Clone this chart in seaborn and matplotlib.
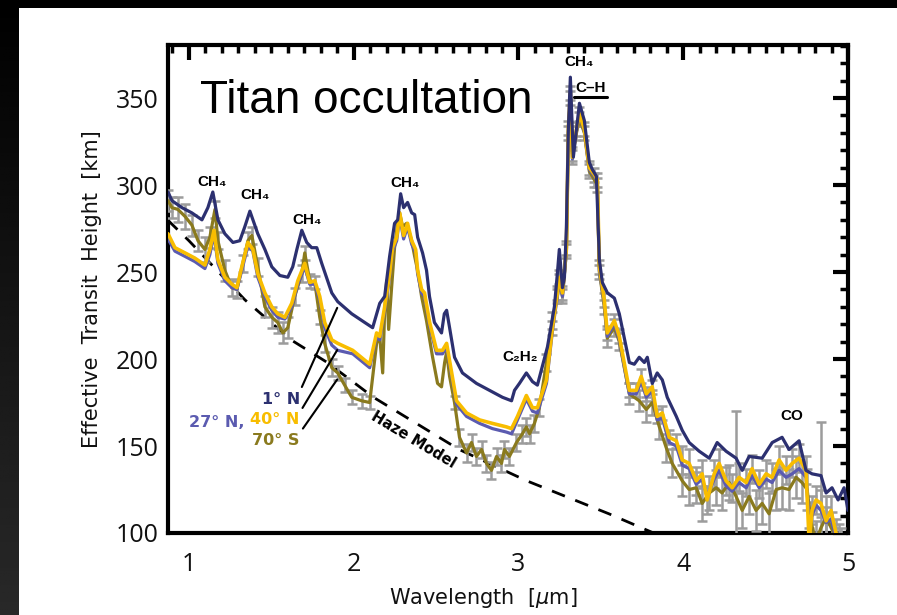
import numpy as np
import matplotlib
matplotlib.use("Agg")
import matplotlib.pyplot as plt
from matplotlib.patches import Rectangle
from matplotlib.ticker import MultipleLocator
import seaborn as sns

sns.set_theme(style="white")
plt.rcParams['font.family'] = ['DejaVu Sans']

# ---------------- data ----------------
wl_1N = [0.873, 0.897, 0.958, 1.018, 1.079, 1.115, 1.145, 1.176, 1.218, 1.267,
         1.309, 1.339, 1.370, 1.418, 1.461, 1.503, 1.552, 1.600, 1.630, 1.655,
         1.685, 1.715, 1.745, 1.776, 1.806, 1.867, 1.903, 1.988, 2.067, 2.115,
         2.158, 2.188, 2.218, 2.248, 2.267, 2.285, 2.303, 2.327, 2.352, 2.370,
         2.388, 2.418, 2.442, 2.460, 2.490, 2.533, 2.550, 2.564, 2.582, 2.612,
         2.660, 2.745, 2.824, 2.903, 2.958, 2.976, 3.006, 3.048, 3.085, 3.115,
         3.176, 3.218, 3.236, 3.248, 3.267, 3.279, 3.291, 3.303, 3.315, 3.333,
         3.370, 3.400, 3.430, 3.448, 3.473, 3.491, 3.509, 3.540, 3.582, 3.612,
         3.673, 3.703, 3.733, 3.764, 3.782, 3.812, 3.842, 3.873, 3.903, 3.958,
         3.994, 4.036, 4.097, 4.158, 4.206, 4.260, 4.321, 4.358, 4.400, 4.479,
         4.540, 4.600, 4.642, 4.703, 4.745, 4.782, 4.836, 4.867, 4.903, 4.940,
         4.976, 5.000]
h_1N = [296, 291, 287, 284, 280, 287, 296, 280, 272, 267,
        268, 276, 285, 272, 263, 253, 248, 247, 253, 263,
        274, 267, 264, 264, 255, 238, 233, 226, 221, 218,
        232, 236, 259, 278, 280, 295, 287, 290, 284, 283,
        270, 261, 251, 236, 221, 215, 226, 228, 218, 201,
        192, 186, 182, 178, 176, 182, 186, 192, 187, 185,
        207, 230, 249, 263, 241, 247, 276, 333, 362, 316,
        347, 337, 313, 309, 305, 257, 244, 238, 235, 226,
        198, 197, 201, 198, 201, 186, 192, 188, 178, 167,
        159, 152, 147, 143, 152, 147, 143, 136, 144, 143,
        152, 155, 148, 153, 136, 134, 133, 123, 126, 119,
        126, 113]

wl_40N = [0.873, 0.915, 0.976, 1.036, 1.097, 1.127, 1.152, 1.176, 1.218, 1.261,
          1.291, 1.321, 1.358, 1.388, 1.418, 1.461, 1.503, 1.539, 1.582, 1.624,
          1.661, 1.703, 1.733, 1.764, 1.794, 1.824, 1.867, 1.903, 1.994, 2.097,
          2.139, 2.158, 2.188, 2.218, 2.236, 2.261, 2.279, 2.303, 2.327, 2.352,
          2.376, 2.388, 2.412, 2.430, 2.461, 2.503, 2.539, 2.564, 2.582, 2.624,
          2.685, 2.764, 2.842, 2.927, 2.958, 2.994, 3.048, 3.085, 3.115, 3.170,
          3.206, 3.236, 3.248, 3.267, 3.291, 3.303, 3.315, 3.327, 3.352, 3.370,
          3.400, 3.430, 3.461, 3.479, 3.491, 3.521, 3.539, 3.582, 3.612, 3.673,
          3.715, 3.745, 3.776, 3.812, 3.842, 3.873, 3.915, 3.958, 3.994, 4.036,
          4.079, 4.115, 4.145, 4.188, 4.218, 4.260, 4.297, 4.339, 4.382, 4.418,
          4.461, 4.503, 4.539, 4.582, 4.624, 4.661, 4.703, 4.745, 4.764, 4.782,
          4.806, 4.836, 4.867, 4.897, 4.927, 4.960]
h_40N = [272, 264, 261, 258, 254, 263, 274, 257, 247, 243,
         241, 253, 267, 263, 249, 238, 230, 226, 224, 232,
         245, 255, 244, 245, 236, 221, 211, 209, 205, 197,
         215, 213, 230, 249, 264, 270, 284, 271, 278, 268,
         263, 251, 240, 238, 221, 205, 205, 209, 199, 176,
         169, 165, 163, 161, 160, 167, 179, 172, 172, 188,
         218, 238, 247, 238, 264, 333, 353, 316, 332, 341,
         332, 310, 306, 303, 253, 234, 215, 222, 213, 182,
         182, 190, 180, 184, 167, 169, 155, 153, 142, 140,
         130, 134, 119, 134, 140, 130, 126, 132, 129, 137,
         128, 134, 132, 142, 136, 140, 143, 136, 95, 113,
         119, 117, 107, 113, 100, 95]
err_40N = [0, 0, 0, 0, 0, 0, 0, 0, 0, 0,
           0, 0, 0, 0, 0, 0, 0, 0, 0, 0,
           0, 0, 0, 0, 0, 0, 0, 0, 0, 0,
           0, 0, 0, 0, 0, 0, 0, 0, 0, 0,
           0, 0, 0, 0, 0, 0, 0, 0, 0, 0,
           0, 0, 0, 0, 0, 0, 0, 0, 0, 0,
           4, 4, 4, 4, 4, 4, 4, 4, 4, 4,
           4, 4, 4, 4, 4, 4, 4, 4, 4, 4,
           4, 4, 4, 4, 4, 4, 4, 4, 8, 8,
           8, 8, 8, 8, 8, 8, 8, 8, 8, 8,
           8, 8, 8, 8, 8, 8, 8, 8, 8, 8,
           8, 8, 8, 8, 8, 8]

wl_27N = wl_40N
h_27N = [269, 262, 259, 256, 252, 260, 272, 255, 245, 241,
         240, 251, 265, 262, 247, 236, 228, 224, 223, 230,
         243, 253, 243, 243, 234, 218, 208, 205, 203, 195,
         213, 211, 228, 247, 262, 268, 282, 269, 276, 266,
         261, 249, 238, 236, 219, 203, 203, 207, 197, 174,
         167, 163, 160, 158, 157, 165, 177, 170, 169, 186,
         216, 236, 245, 236, 262, 331, 351, 315, 331, 340,
         331, 309, 305, 302, 251, 232, 213, 220, 211, 180,
         180, 187, 178, 182, 165, 166, 152, 150, 139, 137,
         128, 131, 121, 131, 136, 127, 124, 129, 126, 133,
         126, 131, 129, 136, 132, 134, 137, 132, 108, 110,
         116, 113, 106, 108, 97, 94]

wl_70S = [0.873, 0.897, 0.933, 0.976, 1.018, 1.055, 1.097, 1.127, 1.158, 1.176,
          1.218, 1.261, 1.291, 1.327, 1.358, 1.382, 1.418, 1.461, 1.503, 1.539,
          1.570, 1.600, 1.642, 1.685, 1.703, 1.733, 1.764, 1.794, 1.824, 1.867,
          1.903, 1.945, 1.988, 2.048, 2.097, 2.139, 2.158, 2.176, 2.188, 2.200,
          2.212, 2.230, 2.248, 2.267, 2.279, 2.297, 2.321, 2.352, 2.370, 2.388,
          2.412, 2.442, 2.479, 2.509, 2.533, 2.552, 2.564, 2.582, 2.612, 2.642,
          2.685, 2.715, 2.745, 2.776, 2.806, 2.836, 2.867, 2.897, 2.915, 2.945,
          2.988, 3.024, 3.048, 3.067, 3.097, 3.127, 3.170, 3.206, 3.236, 3.248,
          3.267, 3.291, 3.303, 3.315, 3.327, 3.352, 3.370, 3.400, 3.430, 3.461,
          3.479, 3.491, 3.521, 3.539, 3.582, 3.612, 3.673, 3.733, 3.776, 3.812,
          3.855, 3.897, 3.933, 3.994, 4.036, 4.079, 4.115, 4.158, 4.200, 4.236,
          4.279, 4.321, 4.358, 4.400, 4.442, 4.479, 4.521, 4.564, 4.600, 4.642,
          4.685, 4.721, 4.752, 4.776, 4.806, 4.836, 4.867, 4.903, 4.945]
h_70S = [291, 287, 286, 282, 277, 268, 263, 270, 286, 268,
         251, 241, 240, 255, 268, 271, 253, 230, 224, 221,
         215, 218, 236, 249, 261, 245, 244, 224, 209, 195,
         192, 185, 178, 176, 175, 209, 213, 192, 228, 245,
         217, 241, 264, 278, 284, 276, 278, 268, 259, 251,
         236, 222, 201, 186, 184, 198, 204, 190, 175, 155,
         146, 152, 144, 148, 140, 136, 144, 140, 148, 144,
         152, 157, 161, 157, 163, 172, 198, 222, 236, 245,
         236, 262, 330, 350, 318, 330, 338, 330, 308, 303,
         300, 250, 230, 212, 218, 210, 180, 176, 171, 175,
         161, 149, 140, 130, 125, 126, 117, 123, 126, 123,
         129, 121, 113, 121, 113, 117, 111, 125, 126, 125,
         132, 129, 125, 106, 95, 103, 109, 102, 95]
err_70S = [6, 6, 7, 7, 6, 6, 7, 6, 5, 5,
           6, 5, 5, 5, 5, 5, 5, 6, 6, 6,
           6, 6, 5, 5, 4, 4, 4, 4, 5, 5,
           4, 4, 4, 4, 4, 0, 0, 0, 0, 0,
           0, 0, 0, 0, 0, 0, 0, 0, 0, 0,
           0, 0, 0, 0, 0, 0, 0, 0, 4, 5,
           5, 5, 5, 5, 5, 5, 5, 5, 5, 5,
           5, 5, 5, 5, 5, 5, 5, 5, 4, 4,
           4, 4, 4, 4, 4, 4, 4, 4, 4, 4,
           4, 4, 4, 5, 5, 5, 6, 6, 7, 7,
           7, 8, 8, 9, 9, 9, 10, 10, 10, 10,
           10, 49, 10, 10, 12, 12, 12, 12, 12, 12,
           12, 12, 12, 12, 12, 61, 12, 10, 10]

wl_haze = [0.87, 1.0, 1.15, 1.34, 1.62, 1.84, 2.12, 2.64, 3.05, 3.55, 3.82]
h_haze = [280, 268, 253, 234, 211, 198, 178, 148, 130, 111, 100]

xticks = [1, 2, 3, 4, 5]
yticks = [100, 150, 200, 250, 300, 350]

C_1N = "#2c3070"
C_27N = "#5b5bb0"
C_40N = "#f8bd00"
C_70S = "#8a7a1e"
C_ERR = "#9c9c9c"

# ---------------- figure ----------------
W, H = 897, 615
fig = plt.figure(figsize=(W / 100, H / 100), dpi=100)
fig.patch.set_facecolor("white")

# dark frame strips of the slide
grad = np.linspace(0.0, 0.16, 256).reshape(-1, 1)
bg = fig.add_axes([0, 0, 18 / W, 1])
bg.imshow(grad, cmap="gray", vmin=0, vmax=1, aspect="auto", extent=[0, 1, 0, 1], origin="upper")
bg.axis("off")
fig.add_artist(Rectangle((0, 1 - 8 / H), 1, 8 / H, transform=fig.transFigure,
                         facecolor="black", edgecolor="none"))

ax = fig.add_axes([168 / W, 1 - 533 / H, (848 - 168) / W, (533 - 45) / H])
ax.set_facecolor("white")

# haze model
sns.lineplot(x=wl_haze, y=h_haze, ax=ax, color="black", lw=2.0, linestyle=(0, (5, 4)),
             sort=False, estimator=None, legend=False, zorder=2)

# error bars
def draw_err(wl, h, e):
    wl = np.asarray(wl, float); h = np.asarray(h, float); e = np.asarray(e, float)
    m = e > 0
    ax.errorbar(wl[m], h[m], yerr=e[m], fmt="none", ecolor=C_ERR, elinewidth=1.8,
                capsize=3.5, capthick=1.8, zorder=3)

draw_err(wl_70S, h_70S, err_70S)
draw_err(wl_40N, h_40N, err_40N)

sns.lineplot(x=wl_70S, y=h_70S, ax=ax, color=C_70S, lw=2.3, sort=False,
             estimator=None, legend=False, zorder=4)
sns.lineplot(x=wl_27N, y=h_27N, ax=ax, color=C_27N, lw=2.3, sort=False,
             estimator=None, legend=False, zorder=5)
sns.lineplot(x=wl_40N, y=h_40N, ax=ax, color=C_40N, lw=2.6, sort=False,
             estimator=None, legend=False, zorder=6)
sns.lineplot(x=wl_1N, y=h_1N, ax=ax, color=C_1N, lw=2.3, sort=False,
             estimator=None, legend=False, zorder=7)

ax.set_xlim(0.873, 5.0)
ax.set_ylim(100, 380.5)

# ticks & spines
ax.set_xticks(xticks)
ax.set_yticks(yticks)
ax.xaxis.set_minor_locator(MultipleLocator(0.1))
ax.yaxis.set_minor_locator(MultipleLocator(10))
ax.tick_params(which="both", direction="in", top=True, right=True, color="black")
ax.tick_params(which="major", length=11, width=3)
ax.tick_params(which="minor", length=6, width=2.5)
ax.tick_params(axis="y", which="major", pad=7, labelsize=18)
ax.tick_params(axis="x", which="major", pad=14, labelsize=18)
for lab in ax.get_xticklabels() + ax.get_yticklabels():
    lab.set_family(["Open Sans", "DejaVu Sans"])
    lab.set_color("#111111")
for s in ax.spines.values():
    s.set_color("black")
    s.set_linewidth(3)
    s.set_visible(True)

ax.set_xlabel("Wavelength  [$\\mu$m]", fontsize=15, color="#111111")
ax.set_ylabel("Effective  Transit  Height  [km]", fontsize=15, color="#111111", labelpad=10)
ax.xaxis.set_label_coords(0.463, -0.108)

# title
ax.text(1.067, 341.5, "Titan occultation", fontsize=33, va="baseline", ha="left",
        family=["Liberation Sans", "DejaVu Sans"], color="black", zorder=10)

# band labels
bf = dict(fontsize=11, fontweight="bold", ha="center", va="center", color="black",
          family=["Liberation Sans", "DejaVu Sans"], zorder=10)
ax.text(1.14, 302, "CH₄", **bf)
ax.text(1.40, 294, "CH₄", **bf)
ax.text(1.72, 280, "CH₄", **bf)
ax.text(2.31, 301, "CH₄", **bf)
ax.text(3.37, 371, "CH₄", **bf)
ax.text(3.44, 356, "C–H", **bf)
ax.text(3.01, 201, "C₂H₂", **bf)
ax.text(4.66, 167, "CO", **bf)
ax.plot([3.34, 3.54], [350.6, 350.6], color="black", lw=2.2, zorder=10)

ax.text(2.36, 153.5, "Haze Model", fontsize=10.5, fontweight="bold", rotation=-31,
        rotation_mode="anchor", ha="center", va="center", color="black", zorder=10)

# series labels with leader lines
lf = dict(fontsize=11.5, fontweight="bold", va="baseline", ha="right", zorder=10)
lab_wl = 1.673
tip_wl = 1.9
arrow = dict(arrowstyle="-", color="black", lw=1.5, relpos=(1.0, 1.0), shrinkA=1, shrinkB=0)
ax.annotate("1° N", xy=(tip_wl, np.interp(tip_wl, wl_1N, h_1N) - 4),
            xytext=(lab_wl, 174.4), color=C_1N, arrowprops=arrow, **lf)
t40 = ax.annotate("40° N", xy=(tip_wl, np.interp(tip_wl, wl_40N, h_40N) - 4),
                  xytext=(lab_wl, 162.4), color=C_40N, arrowprops=arrow, **lf)
ax.annotate("27° N, ", xy=(0, 0), xycoords=t40, color=C_27N, **lf)
ax.annotate("70° S", xy=(tip_wl, np.interp(tip_wl, wl_70S, h_70S) - 4),
            xytext=(lab_wl, 150.6), color=C_70S, arrowprops=arrow, **lf)

fig.savefig("out.png", dpi=100, facecolor=fig.get_facecolor())
